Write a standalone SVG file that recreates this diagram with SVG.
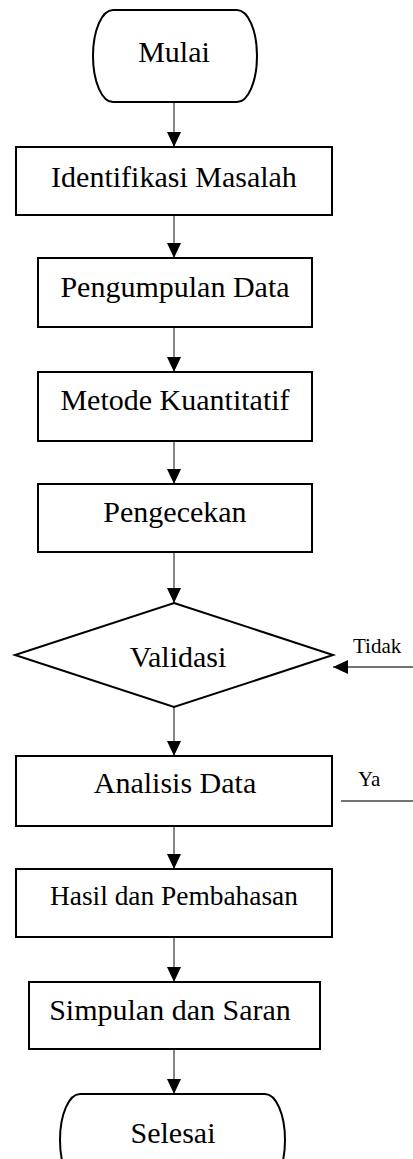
<svg xmlns="http://www.w3.org/2000/svg" width="413" height="1159" viewBox="0 0 413 1159">
<style>
.box{fill:#fff;stroke:#000;stroke-width:2}
.lbl{font-family:"Liberation Serif","Times New Roman",serif;font-size:30px;fill:#000;text-anchor:middle}
.sm{font-family:"Liberation Serif","Times New Roman",serif;font-size:21px;fill:#000}
.con{stroke:#444;stroke-width:1.3;fill:none}
</style>
<defs>
<marker id="arr" markerUnits="userSpaceOnUse" markerWidth="15" markerHeight="14" refX="15" refY="7" orient="auto">
<path d="M0,0 L15,7 L0,14 z" fill="#000"/>
</marker>
</defs>
<g id="connectors">
<line class="con" x1="174" y1="102" x2="174" y2="147" marker-end="url(#arr)"/>
<line class="con" x1="174" y1="215" x2="174" y2="258" marker-end="url(#arr)"/>
<line class="con" x1="174" y1="327" x2="174" y2="372" marker-end="url(#arr)"/>
<line class="con" x1="174" y1="441" x2="174" y2="484" marker-end="url(#arr)"/>
<line class="con" x1="174" y1="552" x2="174" y2="603" marker-end="url(#arr)"/>
<line class="con" x1="174" y1="707" x2="174" y2="756" marker-end="url(#arr)"/>
<line class="con" x1="174" y1="826" x2="174" y2="869" marker-end="url(#arr)"/>
<line class="con" x1="174" y1="937" x2="174" y2="982" marker-end="url(#arr)"/>
<line class="con" x1="174" y1="1049" x2="174" y2="1094" marker-end="url(#arr)"/>
<line class="con" x1="413" y1="667" x2="333" y2="667" marker-end="url(#arr)"/>
<line class="con" x1="341" y1="801" x2="413" y2="801"/>
<text class="sm" x="353" y="653">Tidak</text>
<text class="sm" x="358" y="786">Ya</text>
</g>
<g id="mulai">
<rect class="box" x="93" y="10" width="164" height="92" rx="20" ry="46"/>
<text class="lbl" x="174" y="62">Mulai</text>
</g>
<g id="identifikasi">
<rect class="box" x="16" y="147" width="316" height="68"/>
<text class="lbl" x="174" y="187">Identifikasi Masalah</text>
</g>
<g id="pengumpulan">
<rect class="box" x="38" y="258" width="274" height="69"/>
<text class="lbl" x="175" y="297">Pengumpulan Data</text>
</g>
<g id="metode">
<rect class="box" x="38" y="372" width="274" height="69"/>
<text class="lbl" x="175" y="410">Metode Kuantitatif</text>
</g>
<g id="pengecekan">
<rect class="box" x="38" y="484" width="274" height="68"/>
<text class="lbl" x="175" y="522">Pengecekan</text>
</g>
<g id="validasi">
<polygon class="box" points="174,603 333,655 174,707 15,655"/>
<text class="lbl" x="178" y="667">Validasi</text>
</g>
<g id="analisis">
<rect class="box" x="16" y="756" width="316" height="70"/>
<text class="lbl" x="175" y="793">Analisis Data</text>
</g>
<g id="hasil">
<rect class="box" x="16" y="869" width="316" height="68"/>
<text class="lbl" x="174" y="905" style="font-size:27.4px">Hasil dan Pembahasan</text>
</g>
<g id="simpulan">
<rect class="box" x="29" y="982" width="291" height="67"/>
<text class="lbl" x="170" y="1020">Simpulan dan Saran</text>
</g>
<g id="selesai">
<rect class="box" x="60" y="1094" width="225" height="92" rx="20" ry="46"/>
<text class="lbl" x="173" y="1143">Selesai</text>
</g>
</svg>
